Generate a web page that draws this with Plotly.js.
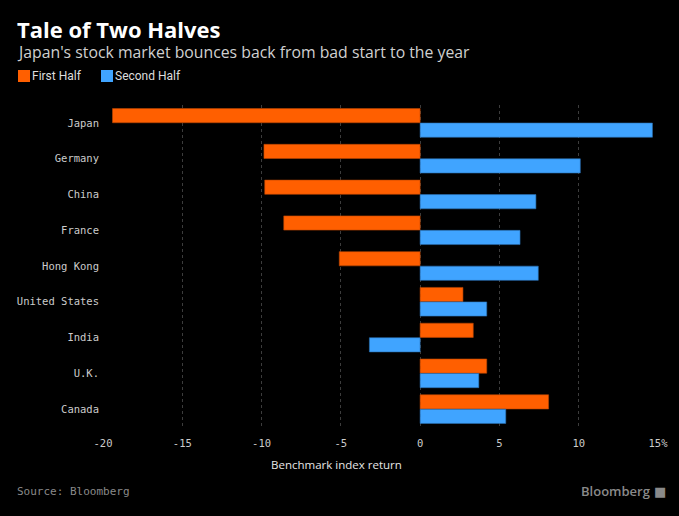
<!DOCTYPE html>
<html>
<head>
<meta charset="utf-8">
<script src="https://cdn.plot.ly/plotly-3.0.1.min.js"></script>
<style>
html,body{margin:0;padding:0;background:#000;}
#chart{width:679px;height:516px;}
</style>
</head>
<body>
<div id="chart"></div>
<script>
const countries = ["Japan","Germany","China","France","Hong Kong","United States","India","U.K.","Canada"];
const firstHalf = [-19.4, -9.85, -9.8, -8.6, -5.1, 2.7, 3.35, 4.2, 8.1];
const secondHalf = [14.65, 10.1, 7.3, 6.3, 7.45, 4.2, -3.2, 3.7, 5.4];
const xTickVals = [-20, -15, -10, -5, 0, 5, 10, 15];
const xTickText = ["-20", "-15", "-10", "-5", "0", "5", "10", "15%"];
const seriesNames = ["First Half", "Second Half"];
const seriesColors = ["#ff5f00", "#40a4ff"];

const traces = [
  {type:"bar", orientation:"h", name:seriesNames[0], y:countries, x:firstHalf,
   marker:{color:seriesColors[0], line:{color:"#b84400", width:0.6}}, hoverinfo:"x+y"},
  {type:"bar", orientation:"h", name:seriesNames[1], y:countries, x:secondHalf,
   marker:{color:seriesColors[1], line:{color:"#2a6fb0", width:0.6}}, hoverinfo:"x+y"}
];

// plot area: left 103, right 658, top 105, bottom 427
const L = 103, W = 555, B = 427, H = 322;
const px = v => (v - L) / W;
const py = v => (B - v) / H;

const layout = {
  width:679, height:516,
  paper_bgcolor:"#000", plot_bgcolor:"#000",
  margin:{l:103, r:21, t:105, b:89},
  barmode:"group", bargap:0.19, bargroupgap:0.02,
  font:{family:"Open Sans, sans-serif", color:"#cccccc"},
  title:{text:"<b>Tale of Two Halves</b>", x:17/679, xref:"container", xanchor:"left",
         y:1 - 30/516, yref:"container", yanchor:"middle",
         font:{family:"Open Sans, sans-serif", size:22, color:"#ffffff"}},
  showlegend:false,
  xaxis:{range:[-20, 15], tickvals:xTickVals, ticktext:xTickText,
         showgrid:true, gridcolor:"#3c3c3c", griddash:"dot", gridwidth:1,
         zeroline:false, showline:false, ticks:"", ticklabelstandoff:8,
         tickfont:{family:"DejaVu Sans Mono, monospace", size:10.5, color:"#cccccc"}},
  yaxis:{autorange:"reversed", type:"category", showgrid:false, zeroline:false, ticks:"",
         ticklabelstandoff:3,
         tickfont:{family:"DejaVu Sans Mono, monospace", size:10.5, color:"#cccccc"}},
  shapes:[
    {type:"rect", xref:"paper", yref:"paper", x0:px(18), x1:px(30), y0:py(82), y1:py(70),
     fillcolor:seriesColors[0], line:{width:0}},
    {type:"rect", xref:"paper", yref:"paper", x0:px(101), x1:px(113), y0:py(82), y1:py(70),
     fillcolor:seriesColors[1], line:{width:0}}
  ],
  annotations:[
    {text:"Japan's stock market bounces back from bad start to the year", xref:"paper", yref:"paper",
     x:px(15), xanchor:"left", y:py(52), yanchor:"middle", showarrow:false,
     font:{family:"Open Sans, sans-serif", size:15.8, color:"#d0d0d0"}},
    {text:seriesNames[0], xref:"paper", yref:"paper", x:px(30), xanchor:"left",
     y:py(76), yanchor:"middle", showarrow:false,
     font:{family:"Roboto, sans-serif", size:12, color:"#dddddd"}},
    {text:seriesNames[1], xref:"paper", yref:"paper", x:px(113), xanchor:"left",
     y:py(76), yanchor:"middle", showarrow:false,
     font:{family:"Roboto, sans-serif", size:12, color:"#dddddd"}},
    {text:"Benchmark index return", xref:"paper", yref:"paper", x:px(336), xanchor:"center",
     y:py(465), yanchor:"middle", showarrow:false,
     font:{family:"Open Sans, sans-serif", size:11.5, color:"#e6e6e6"}},
    {text:"Source: Bloomberg", xref:"paper", yref:"paper", x:px(15), xanchor:"left",
     y:py(492), yanchor:"middle", showarrow:false,
     font:{family:"DejaVu Sans Mono, monospace", size:11, color:"#8a8a8a"}},
    {text:"Bloomberg", xref:"paper", yref:"paper", x:px(652), xanchor:"right",
     y:py(491), yanchor:"middle", showarrow:false,
     font:{family:"Open Sans, sans-serif", size:13, color:"#8a8a8a", weight:600}},
    {text:"\u25A0", xref:"paper", yref:"paper", x:px(668), xanchor:"right",
     y:py(491), yanchor:"middle", showarrow:false,
     font:{family:"DejaVu Sans, sans-serif", size:13, color:"#8a8a8a"}}
  ]
};

Plotly.newPlot("chart", traces, layout, {displayModeBar:false, staticPlot:true});
</script>
</body>
</html>
